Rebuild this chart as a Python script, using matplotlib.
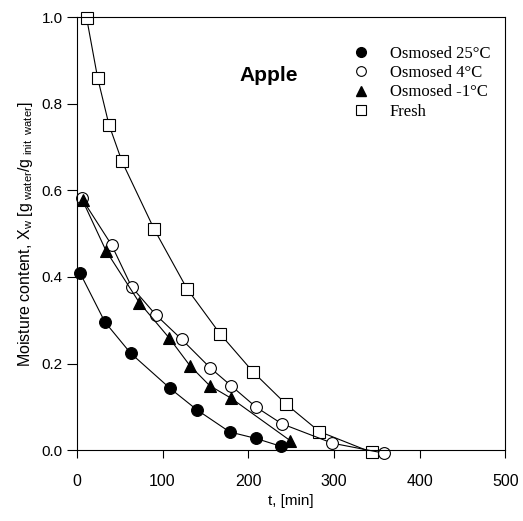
import numpy as np
import matplotlib
matplotlib.use('Agg')
import matplotlib.pyplot as plt
from matplotlib.lines import Line2D

plt.rcParams['font.family'] = 'Liberation Sans'
plt.rcParams['mathtext.fontset'] = 'custom'
plt.rcParams['mathtext.rm'] = 'Liberation Sans'
plt.rcParams['mathtext.it'] = 'Liberation Sans:italic'

# data
t_25 = [3.5, 32.7, 62.7, 108.6, 140.2, 178.4, 209.1, 238]
x_25 = [0.410, 0.296, 0.224, 0.143, 0.093, 0.042, 0.027, 0.009]

t_4 = [5.5, 40.5, 63.9, 91.9, 122.3, 155.7, 179.9, 208.8, 239.1, 298.3, 358.6]
x_4 = [0.582, 0.474, 0.377, 0.313, 0.256, 0.190, 0.149, 0.100, 0.061, 0.016, -0.007]

t_m1 = [6.6, 33.9, 72.8, 107.8, 132, 155, 180, 249]
x_m1 = [0.577, 0.461, 0.341, 0.259, 0.195, 0.149, 0.120, 0.022]

t_fresh = [11.3, 24.2, 37.4, 52.6, 90.3, 128.5, 167, 206, 243.8, 283, 344]
x_fresh = [0.999, 0.860, 0.752, 0.667, 0.510, 0.373, 0.269, 0.180, 0.107, 0.043, -0.005]

labels = ['Osmosed 25°C', 'Osmosed 4°C', 'Osmosed -1°C', 'Fresh']

fig = plt.figure(figsize=(5.23, 5.21), dpi=100)
ax = fig.add_axes([0.147, 0.136, 0.819, 0.831])

ms = 8.5
ax.plot(t_fresh, x_fresh, '-s', color='black', mfc='white', mec='black', ms=ms, lw=0.8, mew=0.8, clip_on=False)
ax.plot(t_4, x_4, '-o', color='black', mfc='white', mec='black', ms=ms, lw=0.8, mew=0.8, clip_on=False)
ax.plot(t_m1, x_m1, '-^', color='black', mfc='black', mec='black', ms=ms, lw=0.8, mew=0.8, clip_on=False)
ax.plot(t_25, x_25, '-o', color='black', mfc='black', mec='black', ms=ms, lw=0.8, mew=0.8, clip_on=False)

ax.set_xlim(0, 500)
ax.set_ylim(0, 1.0)
ax.set_xticks([0, 100, 200, 300, 400, 500])
ax.set_yticks([0.0, 0.2, 0.4, 0.6, 0.8, 1.0])
ax.set_yticklabels(['0.0', '0.2', '0.4', '0.6', '0.8', '1.0'])
ax.tick_params(axis='x', direction='out', length=6, pad=11, labelsize=11.5)
ax.tick_params(axis='y', direction='out', length=7, pad=3, labelsize=11)
for s in ax.spines.values():
    s.set_linewidth(0.8)

ax.set_xlabel('t, [min]', fontsize=11, labelpad=4)
ax.set_ylabel(r'Moisture content, X$_{\rm w}$ [g$_{\ \rm water}$/g$_{\ \rm init\ \ water}$]',
              fontsize=11.5, labelpad=5)

ax.text(224, 0.866, 'Apple', fontsize=15, fontweight='bold', ha='center', va='center')

handles = [
    Line2D([], [], ls='none', marker='o', mfc='black', mec='black', ms=7),
    Line2D([], [], ls='none', marker='o', mfc='white', mec='black', ms=7, mew=0.8),
    Line2D([], [], ls='none', marker='^', mfc='black', mec='black', ms=7),
    Line2D([], [], ls='none', marker='s', mfc='white', mec='black', ms=7, mew=0.8),
]
ax.legend(handles, labels, loc='upper left', bbox_to_anchor=(0.645, 0.934), frameon=False,
          prop={'family': 'Liberation Serif', 'size': 12}, handlelength=1.0, handletextpad=1.2,
          labelspacing=0.2, borderaxespad=0, borderpad=0)

fig.savefig('out.png', dpi=100)
